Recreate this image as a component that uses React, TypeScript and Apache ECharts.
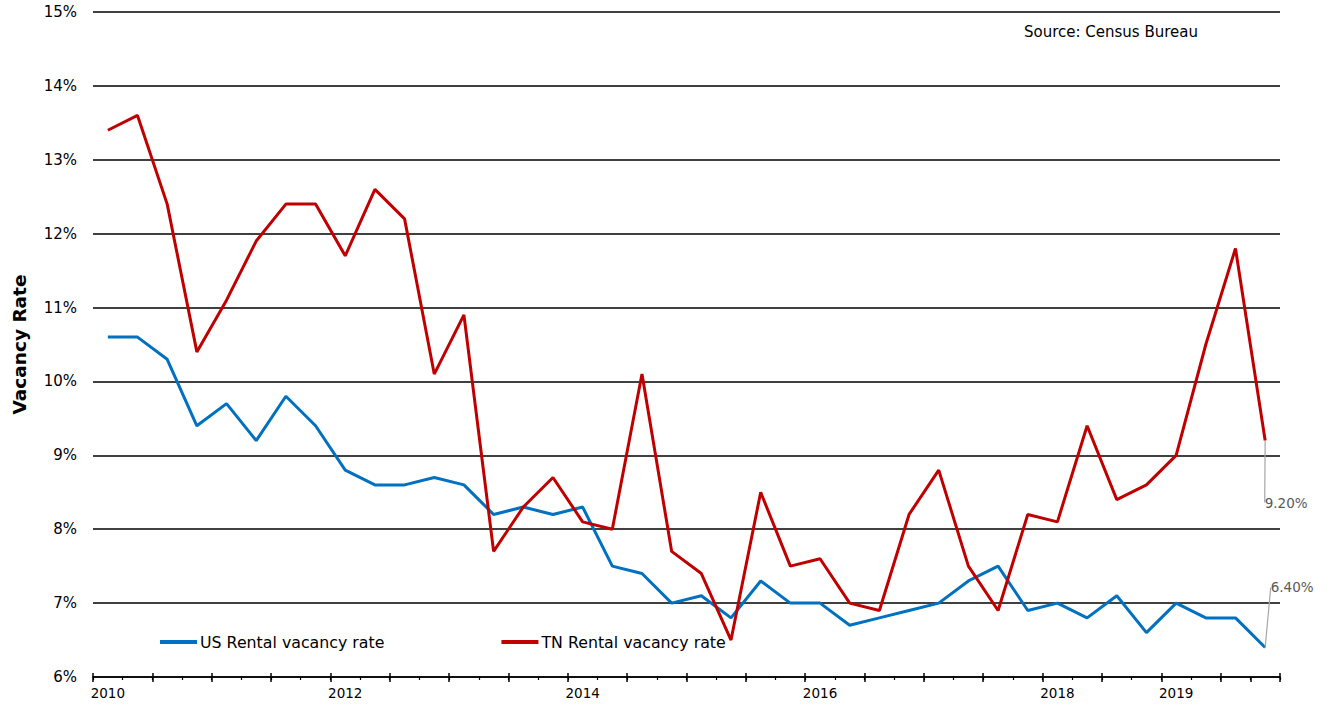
import React, { useEffect, useRef } from "react";
import * as echarts from "echarts";

const quarters: string[] = [];
for (let y = 2010; y <= 2019; y++) for (let q = 1; q <= 4; q++) quarters.push(`${y} Q${q}`);

const labelYears: Record<number, string> = { 0: "2010", 8: "2012", 16: "2014", 24: "2016", 32: "2018", 36: "2019" };

const usRate = [
  10.6, 10.6, 10.3, 9.4, 9.7, 9.2, 9.8, 9.4, 8.8, 8.6,
  8.6, 8.7, 8.6, 8.2, 8.3, 8.2, 8.3, 7.5, 7.4, 7.0,
  7.1, 6.8, 7.3, 7.0, 7.0, 6.7, 6.8, 6.9, 7.0, 7.3,
  7.5, 6.9, 7.0, 6.8, 7.1, 6.6, 7.0, 6.8, 6.8, 6.4,
];

const tnRate = [
  13.4, 13.6, 12.4, 10.4, 11.1, 11.9, 12.4, 12.4, 11.7, 12.6,
  12.2, 10.1, 10.9, 7.7, 8.3, 8.7, 8.1, 8.0, 10.1, 7.7,
  7.4, 6.5, 8.5, 7.5, 7.6, 7.0, 6.9, 8.2, 8.8, 7.5,
  6.9, 8.2, 8.1, 9.4, 8.4, 8.6, 9.0, 10.5, 11.8, 9.2,
];

const FONT = "DejaVu Sans";

function withEndLabel(values: number[]) {
  return values.map((v, i) =>
    i === values.length - 1
      ? { value: v, label: { show: true, formatter: v.toFixed(2) + "%" } }
      : v
  );
}

export default function App() {
  const ref = useRef<HTMLDivElement>(null);
  useEffect(() => {
    document.body.style.margin = "0";
    if (!ref.current) return;
    const chart = echarts.init(ref.current, undefined, { renderer: "svg" });
    const baseX = {
      type: "category" as const,
      data: quarters,
      boundaryGap: true,
      position: "bottom" as const,
    };
    chart.setOption({
      animation: false,
      textStyle: { fontFamily: FONT },
      grid: { left: 93, right: 47, top: 12, bottom: 29, containLabel: false, outerBoundsMode: "none" },
      legend: {
        left: 160,
        top: 634,
        padding: 0,
        itemGap: 117,
        itemWidth: 37,
        itemHeight: 4,
        icon: "rect",
        textStyle: { fontFamily: FONT, fontSize: 15.8, color: "#000", padding: [0, 0, 0, -2] },
        data: ["US Rental vacancy rate", "TN Rental vacancy rate"],
      },
      graphic: [
        {
          type: "text",
          left: 1024,
          top: 24,
          style: { text: "Source: Census Bureau", fontFamily: FONT, fontSize: 15, fill: "#000" },
        },
      ],
      xAxis: [
        {
          ...baseX,
          axisLine: { show: true, lineStyle: { color: "#000", width: 1.5 } },
          axisTick: { show: true, interval: 1, length: 5, lineStyle: { color: "#000", width: 1.5 } },
          axisLabel: {
            interval: 0,
            formatter: (_v: string, i: number) => labelYears[i] ?? "",
            fontSize: 13.5,
            color: "#000",
            margin: 9,
            fontFamily: FONT,
          },
          splitLine: { show: false },
        },
        {
          ...baseX,
          axisLine: { show: false },
          axisTick: { show: true, inside: true, interval: 1, length: 4, lineStyle: { color: "#000", width: 1.5 } },
          axisLabel: { show: false },
          splitLine: { show: false },
        },
        {
          ...baseX,
          axisLine: { show: false },
          axisTick: { show: true, interval: 0, length: 3, lineStyle: { color: "#000", width: 1.2 } },
          axisLabel: { show: false },
          splitLine: { show: false },
        },
      ],
      yAxis: {
        type: "value",
        min: 6,
        max: 15,
        interval: 1,
        name: "Vacancy Rate",
        nameLocation: "middle",
        nameGap: 64,
        nameTextStyle: { fontFamily: FONT, fontSize: 18.5, fontWeight: "bold", color: "#000" },
        axisLine: { show: false },
        axisTick: { show: false },
        axisLabel: {
          formatter: (v: number) => `${v}%`,
          fontSize: 15,
          color: "#000",
          margin: 16,
          fontFamily: FONT,
        },
        splitLine: { show: true, lineStyle: { color: "#000", width: 1.5 } },
      },
      series: [
        {
          name: "US Rental vacancy rate",
          type: "line",
          xAxisIndex: 0,
          data: withEndLabel(usRate),
          symbol: "circle",
          symbolSize: 0,
          showSymbol: true,
          lineStyle: { color: "#0070C0", width: 3 },
          itemStyle: { color: "#0070C0" },
          label: { show: false, color: "#595959", fontSize: 13.5, fontFamily: FONT },
          labelLayout: { dx: 27, dy: -48 },
          labelLine: { show: true, lineStyle: { color: "#A6A6A6", width: 1.2 } },
          z: 3,
        },
        {
          name: "TN Rental vacancy rate",
          type: "line",
          xAxisIndex: 0,
          data: withEndLabel(tnRate),
          symbol: "circle",
          symbolSize: 0,
          showSymbol: true,
          lineStyle: { color: "#C00000", width: 3 },
          itemStyle: { color: "#C00000" },
          label: { show: false, color: "#595959", fontSize: 13.5, fontFamily: FONT },
          labelLayout: { dx: 21, dy: 74 },
          labelLine: { show: true, lineStyle: { color: "#A6A6A6", width: 1.2 } },
          z: 4,
        },
      ],
    });
    return () => chart.dispose();
  }, []);
  return <div ref={ref} style={{ width: 1327, height: 706 }} />;
}
